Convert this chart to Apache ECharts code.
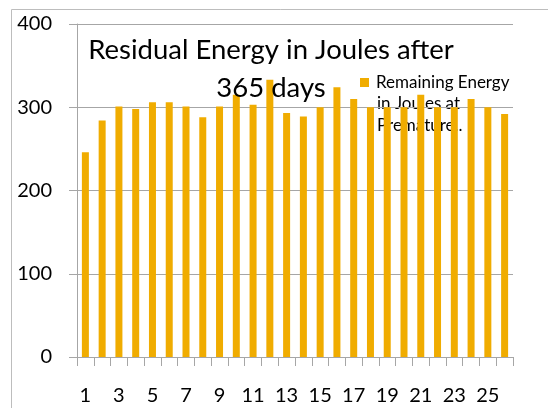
<!DOCTYPE html>
<html>
<head>
<meta charset="utf-8">
<script src="https://cdn.jsdelivr.net/npm/echarts@6/dist/echarts.min.js"></script>
<style>
    html, body { margin: 0; padding: 0; background: #fff; }
    #chart { width: 548px; height: 408px; }
</style>
</head>
<body>
<div id="chart"></div>
<script>
// days 1..26
const days = ['1', '2', '3', '4', '5', '6', '7', '8', '9', '10', '11', '12', '13',
    '14', '15', '16', '17', '18', '19', '20', '21', '22', '23', '24', '25', '26']
// remaining energy (J)
const energy = [246, 284, 301, 298, 306, 306, 301, 288, 301, 315, 303, 333, 293,
    289, 300, 324, 310, 300, 300, 300, 315, 300, 300, 310, 300, 292]
const yTicks = [0, 100, 200, 300, 400]

const font = 'Lato'
const gray = '#A6A6A6'

let myChart = echarts.init(document.getElementById('chart'))
myChart.setOption({
    animation: false,
    textStyle: { fontFamily: font },
    title: {
        text: 'Residual Energy in Joules after\n365 days',
        left: 266,
        top: 26,
        textAlign: 'center',
        textStyle: {
            fontFamily: font,
            fontSize: 27.5,
            fontWeight: 'normal',
            color: '#000',
            lineHeight: 38
        }
    },
    legend: {
        left: 355,
        top: 69,
        itemWidth: 9,
        itemHeight: 9,
        icon: 'rect',
        textStyle: {
            fontFamily: font,
            fontSize: 17,
            color: '#000',
            padding: [0, 0, 0, 2]
        },
        data: ['Remaining Energy']
    },
    graphic: [
        {
            // outer frame of the chart area
            type: 'rect',
            shape: { x: 11.5, y: 9.5, width: 560, height: 420 },
            style: { fill: 'none', stroke: '#BDBDBD', lineWidth: 1 },
            silent: true
        },
        {
            type: 'text',
            left: 377,
            top: 93,
            style: {
                text: 'in Joules at\nPremature..',
                font: '17px Lato',
                lineHeight: 22,
                fill: '#000'
            }
        }
    ],
    grid: {
        left: 77,
        right: 35,
        top: 24,
        bottom: 51
    },
    xAxis: {
        type: 'category',
        data: days,
        boundaryGap: true,
        axisLine: { lineStyle: { color: gray, width: 1 } },
        axisTick: { show: true, interval: 0, length: 9, lineStyle: { color: gray } },
        axisLabel: {
            interval: 1,
            margin: 29,
            fontFamily: font,
            fontSize: 20,
            color: '#000'
        }
    },
    yAxis: {
        type: 'value',
        min: yTicks[0],
        max: yTicks[yTicks.length - 1],
        interval: 100,
        axisLine: { show: true, lineStyle: { color: gray, width: 1 } },
        axisTick: { show: true, length: 8, lineStyle: { color: gray } },
        splitLine: { show: true, lineStyle: { color: gray, width: 1 } },
        axisLabel: {
            margin: 25,
            fontFamily: font,
            fontSize: 20,
            color: '#000'
        }
    },
    series: [
        {
            name: 'Remaining Energy',
            type: 'bar',
            data: energy,
            barWidth: 7,
            itemStyle: { color: '#F0AC00' }
        }
    ]
})
</script>
</body>
</html>
